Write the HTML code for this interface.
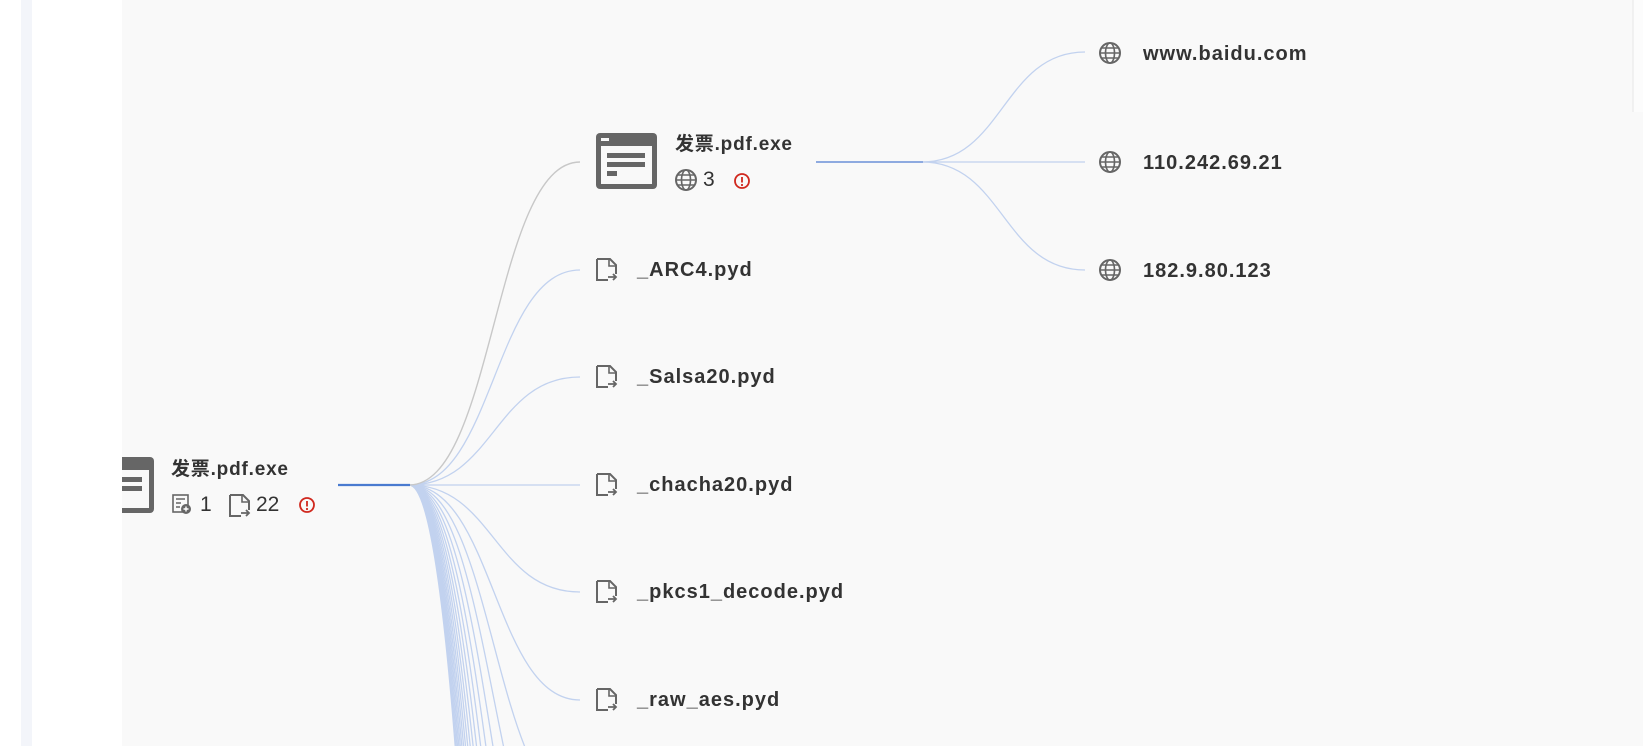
<!DOCTYPE html>
<html><head><meta charset="utf-8"><style>
html,body{margin:0;padding:0;width:1643px;height:746px;overflow:hidden;background:#fff;font-family:"Liberation Sans","Noto Sans CJK SC",sans-serif;}
svg.main{position:absolute;left:0;top:0;overflow:hidden}
</style></head><body>
<svg class="main" width="1643" height="746" viewBox="0 0 1643 746" xmlns="http://www.w3.org/2000/svg" font-family="Liberation Sans, Noto Sans CJK SC, sans-serif">
<defs>
<g id="file"><path d="M1 1 H14 L20 7 V16 M1 1 V22 H12" fill="none" stroke="#666" stroke-width="2"/><path d="M13 1 V8 H20" fill="none" stroke="#666" stroke-width="1.6"/><path d="M12 19 H20 M17 16 L20 19 L17 22" fill="none" stroke="#666" stroke-width="1.8"/></g>
<g id="globe"><circle cx="0" cy="0" r="10" fill="none" stroke="#666" stroke-width="2"/><ellipse cx="0" cy="0" rx="4.5" ry="10" fill="none" stroke="#666" stroke-width="1.6"/><path d="M-10 0 H10 M-8.5 -5 H8.5 M-8.5 5 H8.5" stroke="#666" stroke-width="1.6"/></g>
<g id="alert"><circle cx="0" cy="0" r="7" fill="none" stroke="#d0281e" stroke-width="1.8"/><path d="M0 -4 V1.5" stroke="#d0281e" stroke-width="1.8"/><circle cx="0" cy="4" r="1.1" fill="#d0281e"/></g>
<g id="win"><rect x="0" y="0" width="61" height="56" rx="4" fill="#666"/><rect x="5" y="13" width="51" height="38" fill="#f9f9f9"/><rect x="5" y="5" width="8" height="3" fill="#f9f9f9"/><rect x="11" y="20" width="38" height="5" fill="#666"/><rect x="11" y="29" width="38" height="5" fill="#666"/><rect x="11" y="38" width="10" height="5" fill="#666"/></g>
</defs>
<rect x="21" y="0" width="11" height="746" fill="#f3f5fa"/>
<rect x="122" y="0" width="1521" height="746" fill="#f9f9f9"/>
<rect x="1633" y="0" width="10" height="112" fill="#fcfcfc"/>
<line x1="1633" y1="0" x2="1633" y2="112" stroke="#e6e6e6"/>

<g fill="none" stroke="#c2d2ef" stroke-width="1.3">
<path d="M409 485 C494 485 494 270 580 270"/>
<path d="M409 485 C494 485 494 377 580 377"/>
<path d="M409 485 L580 485"/>
<path d="M409 485 C494 485 494 592 580 592"/>
<path d="M409 485 C494 485 494 700 580 700"/>
<path d="M409 485 C494 485 494 807 580 807"/>
<path d="M409 485 C494 485 494 915 580 915"/>
<path d="M409 485 C494 485 494 1022 580 1022"/>
<path d="M409 485 C494 485 494 1130 580 1130"/>
<path d="M409 485 C494 485 494 1237 580 1237"/>
<path d="M409 485 C494 485 494 1345 580 1345"/>
<path d="M409 485 C494 485 494 1452 580 1452"/>
<path d="M409 485 C494 485 494 1560 580 1560"/>
<path d="M409 485 C494 485 494 1667 580 1667"/>
<path d="M409 485 C494 485 494 1775 580 1775"/>
<path d="M409 485 C494 485 494 1882 580 1882"/>
<path d="M409 485 C494 485 494 1990 580 1990"/>
<path d="M409 485 C494 485 494 2097 580 2097"/>
<path d="M409 485 C494 485 494 2205 580 2205"/>
<path d="M409 485 C494 485 494 2312 580 2312"/>
<path d="M409 485 C494 485 494 2420 580 2420"/>
<path d="M409 485 C494 485 494 2527 580 2527"/>
</g>
<path d="M409 485 C494 485 494 162 580 162" fill="none" stroke="#c8c8c8" stroke-width="1.4"/>
<line x1="338" y1="485" x2="410" y2="485" stroke="#4a7bd0" stroke-width="2.2"/>

<g fill="none" stroke="#c2d2ef" stroke-width="1.3">
<path d="M922 162 C1003 162 1003 52 1085 52"/>
<path d="M922 162 L1085 162"/>
<path d="M922 162 C1003 162 1003 270 1085 270"/>
</g>
<line x1="816" y1="162" x2="923" y2="162" stroke="#8eaae0" stroke-width="2"/>

<svg x="122" y="457" width="40" height="60" overflow="hidden"><use href="#win" x="-29" y="0"/></svg>
<text x="171" y="475" font-size="19" font-weight="bold" fill="#333" letter-spacing="0.8">发票.pdf.exe</text>
<g transform="translate(173,495)"><rect x="0" y="0" width="15" height="17" fill="none" stroke="#666" stroke-width="1.6"/><path d="M3 4 H12 M3 8 H8 M3 12 H7" stroke="#666" stroke-width="1.5"/><circle cx="13" cy="14" r="5" fill="#666"/><path d="M10.5 14 H15.5 M13 11.5 V16.5" stroke="#fff" stroke-width="1.4"/></g>
<text x="200" y="511" font-size="21" fill="#333">1</text>
<use href="#file" x="229" y="494"/>
<text x="256" y="511" font-size="21" fill="#333">22</text>
<use href="#alert" x="307" y="505"/>

<use href="#win" x="596" y="133"/>
<text x="675" y="150" font-size="19" font-weight="bold" fill="#333" letter-spacing="0.8">发票.pdf.exe</text>
<use href="#globe" x="686" y="180"/>
<text x="703" y="186" font-size="21" fill="#333">3</text>
<use href="#alert" x="742" y="181"/>

<g font-size="20" font-weight="bold" fill="#333" letter-spacing="1">
<use href="#file" x="596" y="258"/><text x="637" y="276">_ARC4.pyd</text>
<use href="#file" x="596" y="365"/><text x="637" y="383">_Salsa20.pyd</text>
<use href="#file" x="596" y="473"/><text x="637" y="491">_chacha20.pyd</text>
<use href="#file" x="596" y="580"/><text x="637" y="598">_pkcs1_decode.pyd</text>
<use href="#file" x="596" y="688"/><text x="637" y="706">_raw_aes.pyd</text>
</g>

<g font-size="20" font-weight="bold" fill="#333" letter-spacing="1">
<use href="#globe" x="1110" y="53"/><text x="1143" y="60">www.baidu.com</text>
<use href="#globe" x="1110" y="162"/><text x="1143" y="169">110.242.69.21</text>
<use href="#globe" x="1110" y="270"/><text x="1143" y="277">182.9.80.123</text>
</g>
</svg>
</body></html>
